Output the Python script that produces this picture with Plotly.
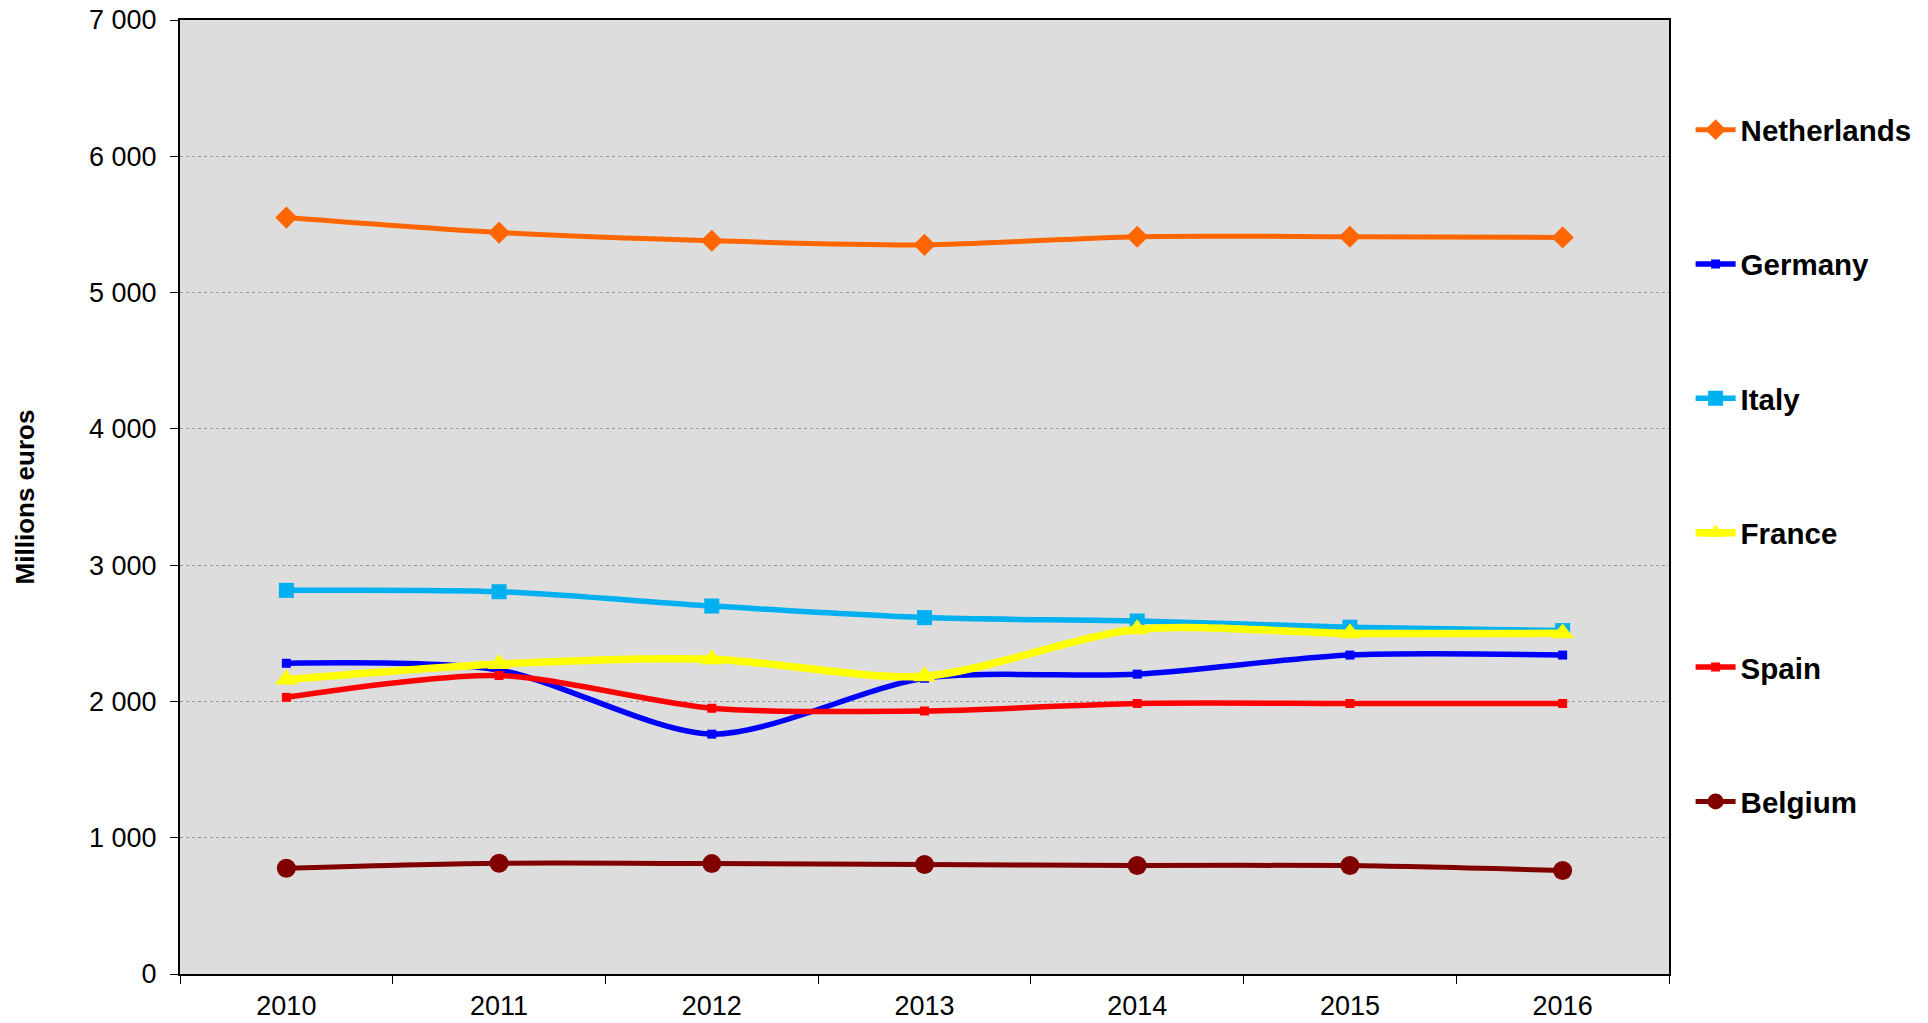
import plotly.graph_objects as go

years = ["2010", "2011", "2012", "2013", "2014", "2015", "2016"]
netherlands = [5550, 5440, 5380, 5350, 5410, 5410, 5405]
germany = [2280, 2230, 1760, 2170, 2200, 2340, 2340]
italy = [2815, 2805, 2700, 2615, 2590, 2545, 2520]
france = [2160, 2275, 2310, 2185, 2530, 2500, 2500]
spain = [2030, 2190, 1950, 1930, 1985, 1985, 1985]
belgium = [776, 812, 810, 803, 796, 796, 760]

y_tickvals = [0, 1000, 2000, 3000, 4000, 5000, 6000, 7000]
y_ticktext = ["0", "1 000", "2 000", "3 000", "4 000", "5 000", "6 000", "7 000"]

series = [
    ("Netherlands", netherlands, "#FF6600", 5, "diamond", 17),
    ("Germany", germany, "#0000FF", 5.5, "square", 9),
    ("Italy", italy, "#00B0F0", 5.5, "square", 15),
    ("France", france, "#FFFF00", 7.5, "triangle-up", 20),
    ("Spain", spain, "#FF0000", 5.5, "square", 9),
    ("Belgium", belgium, "#800000", 5, "circle", 19),
]

fig = go.Figure()
for name, vals, color, lw, sym, ms in series:
    fig.add_trace(go.Scatter(
        x=years, y=vals, name=name, legendgroup=name,
        mode="lines+markers",
        line=dict(color=color, width=lw, shape="spline", smoothing=0.8),
        marker=dict(color=color, symbol=sym, size=ms),
    ))

FONT = "Liberation Sans, Arial, sans-serif"

fig.update_layout(
    width=1928, height=1023,
    margin=dict(l=172, r=267, t=12, b=57),
    paper_bgcolor="white",
    plot_bgcolor="#DDDDDD",
    font=dict(family=FONT, size=27, color="black"),
    showlegend=True,
    legend=dict(
        x=1.0145, xanchor="left", y=0.912, yanchor="top",
        font=dict(family=FONT, size=29.5, color="black", weight="bold"),
        tracegroupgap=93,
        bgcolor="rgba(0,0,0,0)",
        itemwidth=40,
    ),
    xaxis=dict(
        type="category",
        range=[-0.5, 6.5],
        tickson="boundaries",
        ticks="outside", ticklen=8, tickcolor="black", tickwidth=1,
        ticklabelstandoff=7,
        showline=True, linecolor="black", linewidth=2, mirror=True,
        showgrid=False,
        automargin=False,
        tickfont=dict(family=FONT, size=27),
    ),
    yaxis=dict(
        range=[0, 7000],
        tickvals=y_tickvals, ticktext=y_ticktext,
        ticks="outside", ticklen=8, tickcolor="black", tickwidth=1,
        ticklabelstandoff=8,
        ticklabeloverflow="allow",
        automargin=False,
        showline=True, linecolor="black", linewidth=2, mirror=True,
        showgrid=True, gridcolor="#999999", griddash="dot", gridwidth=1,
        zeroline=False,
        tickfont=dict(family=FONT, size=27),
        title=dict(text="<b>Millions euros</b>", font=dict(family=FONT, size=26), standoff=47),
    ),
)

fig.write_html("out.html")
